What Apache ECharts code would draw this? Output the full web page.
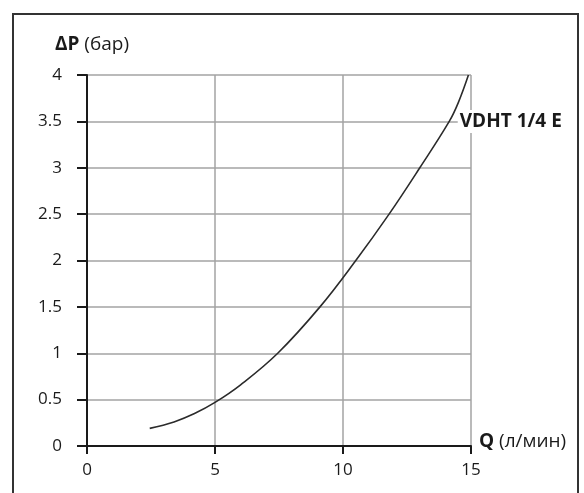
<!DOCTYPE html>
<html>
<head>
<meta charset="utf-8">
<script src="https://cdn.jsdelivr.net/npm/echarts@6/dist/echarts.min.js"></script>
<style>
html,body{margin:0;padding:0;background:#fff}
#chart{width:584px;height:493px}
</style>
</head>
<body>
<div id="chart"></div>
<script>
// Q (l/min) against pressure drop dP (bar)
var flow = [2.45, 3.4, 4.2, 5.0, 6.0, 7.45, 9.1, 10.5, 11.8, 13.0, 14.15, 14.5, 14.9];
var dp   = [0.19, 0.26, 0.35, 0.47, 0.66, 1.0, 1.5, 2.0, 2.5, 3.0, 3.5, 3.7, 4.0];
var curveName = 'VDHT 1/4 E';
var labelAt = 10; // point next to which the curve name sits

var xMin = 0, xMax = 15, xStep = 5;
var yMin = 0, yMax = 4, yStep = 0.5;

var font = 'Open Sans';
var ink = '#1a1a1a';
var gridGray = '#a3a3a3';

var points = flow.map(function (q, i) { return [q, dp[i]]; });

var option = {
  animation: false,
  title: {
    left: 50,
    top: 30,
    text: '{b|ΔP} (бар)',
    textStyle: {
      fontFamily: font, fontSize: 19, fontWeight: 'normal', color: ink,
      rich: { b: { fontFamily: font, fontSize: 19, fontWeight: 'bold', color: ink } }
    }
  },
  graphic: [{
    type: 'rect',
    z: -1,
    shape: { x: 13, y: 14, width: 565, height: 500 },
    style: { fill: 'none', stroke: '#333', lineWidth: 2 }
  }],
  grid: { left: 87, top: 75, width: 384, height: 371, containLabel: false },
  xAxis: {
    type: 'value',
    min: xMin, max: xMax, interval: xStep,
    name: '{b|Q} (л/мин)',
    nameLocation: 'end',
    nameGap: 8,
    nameTextStyle: {
      fontFamily: font, fontSize: 19, color: ink,
      verticalAlign: 'middle', padding: [0, 0, 8, 0],
      rich: { b: { fontFamily: font, fontSize: 19, fontWeight: 'bold', color: ink } }
    },
    axisLine: { lineStyle: { color: ink, width: 2 } },
    axisTick: { show: true, length: 8, lineStyle: { color: ink, width: 2 } },
    axisLabel: { margin: 16, fontFamily: font, fontSize: 17, color: ink },
    splitLine: { show: true, lineStyle: { color: gridGray, width: 1.5 } }
  },
  yAxis: {
    type: 'value',
    min: yMin, max: yMax, interval: yStep,
    axisLine: { show: true, lineStyle: { color: ink, width: 2 } },
    axisTick: { show: true, length: 10, lineStyle: { color: ink, width: 2 } },
    axisLabel: { margin: 25, fontFamily: font, fontSize: 17, color: ink },
    splitLine: { show: true, lineStyle: { color: gridGray, width: 1.5 } }
  },
  series: [{
    name: curveName,
    type: 'line',
    data: points,
    smooth: 0.4,
    showSymbol: false,
    lineStyle: { color: '#2b2b2b', width: 1.6 },
    markPoint: {
      symbol: 'circle',
      symbolSize: 1,
      itemStyle: { color: 'rgba(0,0,0,0)' },
      label: {
        show: true,
        position: 'right',
        distance: 8,
        formatter: curveName,
        fontFamily: font, fontSize: 19, fontWeight: 'bold', color: ink,
        backgroundColor: '#fff',
        padding: [2, 2, 2, 2]
      },
      data: [{ coord: points[labelAt] }]
    }
  }]
};

echarts.init(document.getElementById('chart')).setOption(option);
</script>
</body>
</html>
